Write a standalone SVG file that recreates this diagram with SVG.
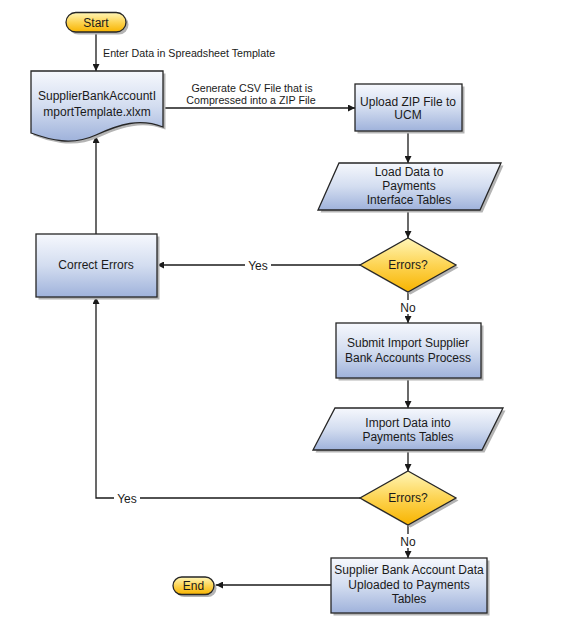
<svg xmlns="http://www.w3.org/2000/svg" width="576" height="624" viewBox="0 0 576 624">
<style>
text{font-family:"Liberation Sans",Arial,sans-serif;font-size:12px;fill:#1a1a1a;text-anchor:middle}
text.cl{font-size:10.7px}
.box{fill:url(#gb);stroke:#262626;stroke-width:1.3}
.yel{fill:url(#gy);stroke:#262626;stroke-width:1.3}
.sh{fill:#b4b4b4}
.ln{fill:none;stroke:#1a1a1a;stroke-width:1.3}
.lbl{fill:#fff}
</style>
<defs>
<linearGradient id="gb" x1="0" y1="0" x2="0" y2="1">
<stop offset="0" stop-color="#f6f8fd"/>
<stop offset="0.5" stop-color="#d3ddf0"/>
<stop offset="1" stop-color="#9fb2db"/>
</linearGradient>
<linearGradient id="gy" x1="0" y1="0" x2="0" y2="1">
<stop offset="0" stop-color="#fff6b8"/>
<stop offset="0.5" stop-color="#fdd453"/>
<stop offset="1" stop-color="#f8b400"/>
</linearGradient>
<marker id="ar" viewBox="0 0 10 10" refX="10" refY="5" markerWidth="7" markerHeight="7" markerUnits="userSpaceOnUse" orient="auto">
<path d="M0,0 L10,5 L0,10 Z" fill="#1a1a1a"/>
</marker>
</defs>

<g id="connectors">
<line class="ln" x1="96" y1="32" x2="96" y2="71" marker-end="url(#ar)"/>
<line class="ln" x1="163" y1="108" x2="355" y2="108" marker-end="url(#ar)"/>
<line class="ln" x1="408" y1="131" x2="408" y2="163" marker-end="url(#ar)"/>
<line class="ln" x1="408" y1="210" x2="408" y2="238" marker-end="url(#ar)"/>
<line class="ln" x1="360" y1="265" x2="157" y2="265" marker-end="url(#ar)"/>
<line class="ln" x1="408" y1="292" x2="408" y2="323" marker-end="url(#ar)"/>
<line class="ln" x1="96" y1="234" x2="96" y2="136" marker-end="url(#ar)"/>
<line class="ln" x1="408" y1="378" x2="408" y2="408" marker-end="url(#ar)"/>
<line class="ln" x1="408" y1="450" x2="408" y2="471" marker-end="url(#ar)"/>
<polyline class="ln" points="360,498 96,498 96,297" marker-end="url(#ar)"/>
<line class="ln" x1="408" y1="523" x2="408" y2="558" marker-end="url(#ar)"/>
<line class="ln" x1="331" y1="585" x2="216" y2="585" marker-end="url(#ar)"/>
<text class="cl" x="103" y="56.5" style="text-anchor:start">Enter Data in Spreadsheet Template</text>
<text class="cl" x="252" y="91.5">Generate CSV File that is</text>
<text class="cl" x="251" y="104">Compressed into a ZIP File</text>
<rect class="lbl" x="245" y="258" width="26" height="14"/>
<text x="258" y="269.5">Yes</text>
<rect class="lbl" x="398" y="300" width="20" height="14"/>
<text x="408" y="311.5">No</text>
<rect class="lbl" x="114" y="491" width="26" height="14"/>
<text x="127" y="502.5">Yes</text>
<rect class="lbl" x="398" y="534" width="20" height="14"/>
<text x="408" y="545.5">No</text>
</g>

<g id="start">
<rect class="sh" x="68.5" y="15" width="60" height="19.5" rx="9.75"/>
<rect class="yel" x="66" y="12.5" width="60" height="19.5" rx="9.75"/>
<text x="96" y="26.5">Start</text>
</g>

<g id="template">
<path class="sh" d="M33.5,73.5 H165.5 V129.5 C142.5,120.5 122.5,126.5 98.5,137.5 C74.5,148.5 52.5,142.5 33.5,135.5 Z"/>
<path class="box" d="M31,71 H163 V127 C140,118 120,124 96,135 C72,146 50,140 31,133 Z"/>
<text x="97" y="100">SupplierBankAccountI</text>
<text x="97" y="116">mportTemplate.xlxm</text>
</g>

<g id="upload">
<rect class="sh" x="357.5" y="86.5" width="107" height="47"/>
<rect class="box" x="355" y="84" width="107" height="47"/>
<text x="408" y="105.5">Upload ZIP File to</text>
<text x="408" y="118.5">UCM</text>
</g>

<g id="load">
<polygon class="sh" points="341.5,165.5 503.5,165.5 482.5,212.5 320.5,212.5"/>
<polygon class="box" points="339,163 501,163 480,210 318,210"/>
<text x="409" y="175.5">Load Data to</text>
<text x="409" y="190">Payments</text>
<text x="409" y="204">Interface Tables</text>
</g>

<g id="errors1">
<polygon class="sh" points="410.5,240.5 458.5,267.5 410.5,294.5 362.5,267.5"/>
<polygon class="yel" points="408,238 456,265 408,292 360,265"/>
<text x="408" y="269">Errors?</text>
</g>

<g id="correct">
<rect class="sh" x="38.5" y="236.5" width="121" height="63"/>
<rect class="box" x="36" y="234" width="121" height="63"/>
<text x="96" y="269">Correct Errors</text>
</g>

<g id="submit">
<rect class="sh" x="338.5" y="325.5" width="145" height="55"/>
<rect class="box" x="336" y="323" width="145" height="55"/>
<text x="408" y="347">Submit Import Supplier</text>
<text x="408" y="362">Bank Accounts Process</text>
</g>

<g id="import">
<polygon class="sh" points="337.5,410.5 505.5,410.5 484.5,452.5 315.5,452.5"/>
<polygon class="box" points="335,408 503,408 482,450 313,450"/>
<text x="408" y="427">Import Data into</text>
<text x="408" y="441">Payments Tables</text>
</g>

<g id="errors2">
<polygon class="sh" points="410.5,473.5 458.5,500.5 410.5,527.5 362.5,500.5"/>
<polygon class="yel" points="408,471 456,498 408,525 360,498"/>
<text x="408" y="502">Errors?</text>
</g>

<g id="uploaded">
<rect class="sh" x="333.5" y="560.5" width="156" height="55"/>
<rect class="box" x="331" y="558" width="156" height="55"/>
<text x="409" y="574">Supplier Bank Account Data</text>
<text x="409" y="589">Uploaded to Payments</text>
<text x="409" y="602.5">Tables</text>
</g>

<g id="end">
<rect class="sh" x="175.5" y="579.5" width="41" height="17.5" rx="8.75"/>
<rect class="yel" x="173" y="577" width="41" height="17.5" rx="8.75"/>
<text x="193.5" y="590">End</text>
</g>
</svg>
